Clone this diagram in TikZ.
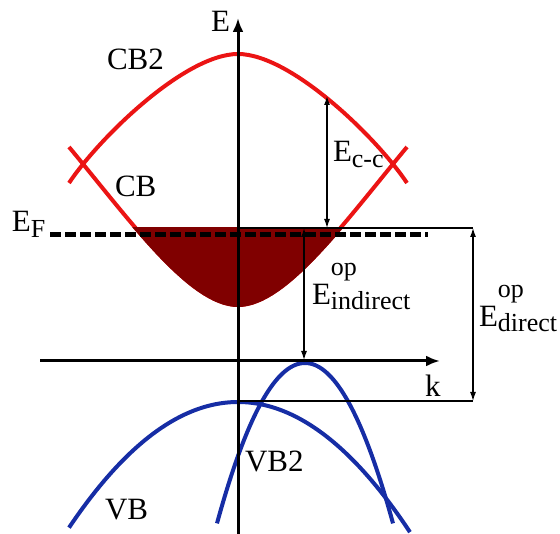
\documentclass[tikz,border=0pt]{standalone}
\usepackage{fontspec}
\setmainfont{Liberation Serif}
\usetikzlibrary{arrows.meta}
\definecolor{bandred}{RGB}{235,20,20}
\definecolor{bandblue}{RGB}{22,45,165}
\definecolor{filledred}{RGB}{128,0,0}
\newcommand{\mainsz}{\fontsize{31}{31}\selectfont}
\newcommand{\subsz}{\fontsize{26}{26}\selectfont}
\newcommand{\Esb}[1]{E\raisebox{-5.5pt}{\subsz #1}}
\newcommand{\Eop}[1]{E\rlap{\raisebox{29pt}{\subsz op}}\raisebox{-5pt}{\subsz #1}}
\begin{document}
\begin{tikzpicture}[x=1pt,y=-1pt,
  lbl/.style={inner sep=0pt,outer sep=0pt,anchor=base west,font=\mainsz},
  axisline/.style={line width=3pt,-{Latex[length=14pt,width=11pt]}},
  dimarrow/.style={line width=1.2pt,{Latex[length=9pt,width=6pt]}-{Latex[length=9pt,width=6pt]}},
  thinline/.style={line width=1.2pt},
  redband/.style={bandred,line width=4pt},
  blueband/.style={bandblue,line width=4pt},
  fermi/.style={line width=5pt,dash pattern=on 10.7pt off 4.3pt}
]
\useasboundingbox (0,0) rectangle (560,534);
% conduction bands
\draw[redband] (69,183) .. controls (99,138) and (185,54) .. (238,54)
  .. controls (291,54) and (377,138) .. (407,183);
\draw[redband] (69,147) .. controls (129,219) and (190,305) .. (238,305)
  .. controls (286,305) and (347,219) .. (407,147);
\begin{scope}
  \clip (0,228) rectangle (560,534);
  \filldraw[filledred,line width=4pt] (69,147) .. controls (129,219) and (190,305) .. (238,305)
    .. controls (286,305) and (347,219) .. (407,147) -- cycle;
\end{scope}
% valence bands
\draw[blueband,domain=69:410,samples=90] plot (\x,{402+(0.06633*(\x-238))^2});
\draw[blueband,domain=217:393,samples=90] plot (\x,{363+(0.1439*(\x-305))^2});
% Fermi level
\coordinate (ef1) at (50,235);
\coordinate (ef2) at (428,235);
\draw[fermi] (ef1) -- (ef2);
% axes
\coordinate (Eb) at (238,535);
\coordinate (Et) at (238,18);
\draw[axisline] (Eb) -- (Et);
\coordinate (kb) at (40,361);
\coordinate (kt) at (440,361);
\draw[axisline] (kb) -- (kt);
% reference lines
\coordinate (f0) at (238,228);
\coordinate (f1) at (473,228);
\draw[thinline] (f0) -- (f1);
\coordinate (v0) at (238,401);
\coordinate (v1) at (473,401);
\draw[thinline] (v0) -- (v1);
% dimension arrows
\coordinate (cc1) at (327,96);
\coordinate (cc2) at (327,228);
\draw[dimarrow] (cc1) -- (cc2);
\coordinate (in1) at (304,228);
\coordinate (in2) at (304,360);
\draw[dimarrow] (in1) -- (in2);
\coordinate (di1) at (473,228);
\coordinate (di2) at (473,401);
\draw[dimarrow] (di1) -- (di2);
% labels
\node[lbl] (lE) at (211,32) {E};
\node[lbl] (lk) at (425,397) {k};
\node[lbl] (lCB2) at (107,70) {CB2};
\node[lbl] (lCB) at (115,197) {CB};
\node[lbl] (lVB2) at (245,472) {VB2};
\node[lbl] (lVB) at (105,520) {VB};
\node[lbl] (lEF) at (12,232) {\Esb{F}};
\node[lbl] (lEcc) at (333,162) {\Esb{c-c}};
\node[lbl] (lEind) at (312,305) {\Eop{indirect}};
\node[lbl] (lEdir) at (479,327) {\Eop{direct}};
\end{tikzpicture}
\end{document}
